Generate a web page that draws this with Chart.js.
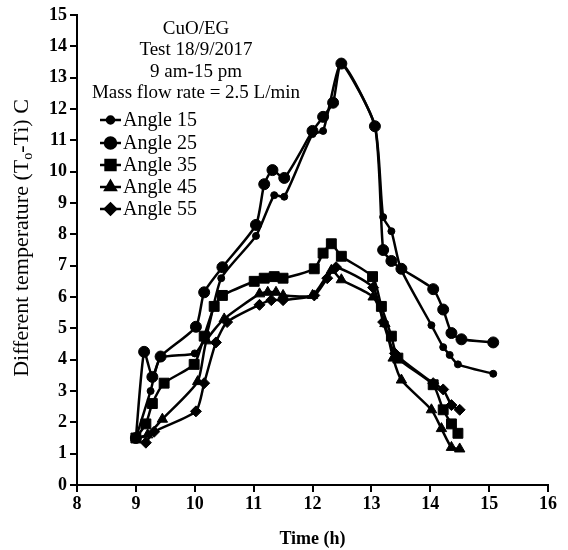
<!DOCTYPE html>
<html>
<head>
<meta charset="utf-8">
<script src="https://cdn.jsdelivr.net/npm/chart.js@4/dist/chart.umd.min.js"></script>
<style>
  html, body { margin: 0; padding: 0; background: #fff; }
  #wrap { position: relative; width: 568px; height: 550px; }
</style>
</head>
<body>
<div id="wrap"><canvas id="tempChart" width="568" height="550"></canvas></div>
<script>
// Outlet minus inlet temperature over the test day, one series per tilt angle
const angle15Time = [9.0, 9.25, 9.42, 10.0, 10.2, 10.45, 11.04, 11.35, 11.52, 12.0, 12.18, 12.49, 13.06, 13.2, 13.34, 13.5, 14.02, 14.22, 14.33, 14.47, 15.07];
const angle15Temp = [1.5, 3.0, 4.05, 4.2, 4.8, 6.6, 7.95, 9.25, 9.2, 11.2, 11.3, 13.45, 11.45, 8.55, 8.1, 6.9, 5.1, 4.4, 4.15, 3.85, 3.55];

const angle25Time = [9.0, 9.14, 9.28, 9.42, 10.02, 10.16, 10.47, 11.04, 11.18, 11.32, 11.52, 12.0, 12.18, 12.35, 12.49, 13.06, 13.2, 13.34, 13.51, 14.05, 14.22, 14.36, 14.53, 15.07];
const angle25Temp = [1.5, 4.25, 3.45, 4.1, 5.05, 6.15, 6.95, 8.3, 9.6, 10.05, 9.8, 11.3, 11.75, 12.2, 13.45, 11.45, 7.5, 7.15, 6.9, 6.25, 5.6, 4.85, 4.65, 4.55];

const angle35Time = [9.0, 9.17, 9.28, 9.48, 9.99, 10.16, 10.33, 10.47, 11.01, 11.18, 11.35, 11.5, 12.03, 12.18, 12.32, 12.49, 13.02, 13.17, 13.34, 13.45, 14.05, 14.22, 14.36, 14.47];
const angle35Temp = [1.5, 1.95, 2.6, 3.25, 3.85, 4.75, 5.7, 6.05, 6.5, 6.6, 6.65, 6.6, 6.9, 7.4, 7.7, 7.3, 6.65, 5.7, 4.75, 4.05, 3.2, 2.4, 1.95, 1.65];

const angle45Time = [9.0, 9.2, 9.45, 10.05, 10.2, 10.5, 11.1, 11.24, 11.38, 11.5, 12.0, 12.32, 12.49, 13.03, 13.23, 13.37, 13.51, 14.02, 14.19, 14.36, 14.5];
const angle45Temp = [1.5, 1.6, 2.1, 3.3, 4.6, 5.3, 6.1, 6.15, 6.15, 6.05, 6.05, 6.85, 6.55, 6.0, 5.15, 4.05, 3.35, 2.4, 1.8, 1.2, 1.15];

const angle55Time = [9.17, 9.31, 10.02, 10.16, 10.36, 10.55, 11.1, 11.3, 11.5, 12.03, 12.25, 12.4, 13.03, 13.2, 13.4, 14.05, 14.22, 14.36, 14.5];
const angle55Temp = [1.35, 1.7, 2.35, 3.25, 4.55, 5.2, 5.75, 5.9, 5.9, 6.05, 6.6, 6.95, 6.3, 5.2, 4.2, 3.25, 3.05, 2.55, 2.4];

const seriesLabels = ['Angle 15', 'Angle 25', 'Angle 35', 'Angle 45', 'Angle 55'];
const noteLines = ['CuO/EG', 'Test 18/9/2017', '9 am-15 pm', 'Mass flow rate = 2.5 L/min'];

const SERIF = '"Liberation Serif", "Times New Roman", serif';

function toPoints(times, temps) {
    return times.map((t, i) => ({ x: t, y: temps[i] }));
}

function makeSet(label, times, temps, style, radius) {
    return {
        label: label,
        data: toPoints(times, temps),
        borderColor: '#000',
        backgroundColor: '#000',
        borderWidth: 2.5,
        pointStyle: style,
        pointRadius: radius,
        pointBorderWidth: 1,
        tension: 0.2,
        fill: false
    };
}

// text block, legend and y title drawn straight on the canvas
const annotations = {
    id: 'annotations',
    afterDraw(chart) {
        const ctx = chart.ctx;
        ctx.save();
        ctx.fillStyle = '#000';
        ctx.textBaseline = 'middle';

        // note block
        ctx.font = '19px ' + SERIF;
        ctx.textAlign = 'center';
        const noteY = [29, 50, 72, 93];
        noteLines.forEach((txt, i) => ctx.fillText(txt, 196, noteY[i]));

        // legend
        ctx.textAlign = 'left';
        ctx.font = '20px ' + SERIF;
        const rowY = [120, 143, 165, 187, 209];
        chart.data.datasets.forEach((ds, i) => {
            const y = rowY[i];
            ctx.strokeStyle = '#000';
            ctx.lineWidth = 2.5;
            ctx.beginPath();
            ctx.moveTo(100, y);
            ctx.lineTo(121, y);
            ctx.stroke();
            if (Chart.helpers && Chart.helpers.drawPoint) {
                Chart.helpers.drawPoint(ctx, {
                    pointStyle: ds.pointStyle,
                    radius: ds.pointRadius,
                    rotation: 0,
                    borderWidth: 1
                }, 110.5, y);
                ctx.fill();
            }
            ctx.fillStyle = '#000';
            ctx.fillText(seriesLabels[i], 123, y + 1);
        });

        // y axis title with subscript o
        ctx.translate(22, 238);
        ctx.rotate(-Math.PI / 2);
        const parts = [
            { t: 'Different temperature (T', f: '22px ' + SERIF, dy: 0 },
            { t: 'o', f: '14px ' + SERIF, dy: 6 },
            { t: '-Ti) C', f: '22px ' + SERIF, dy: 0 }
        ];
        let total = 0;
        parts.forEach(p => { ctx.font = p.f; total += ctx.measureText(p.t).width; });
        let x = -total / 2;
        parts.forEach(p => {
            ctx.font = p.f;
            ctx.fillText(p.t, x, p.dy);
            x += ctx.measureText(p.t).width;
        });
        ctx.restore();
    }
};

const axisStyle = {
    border: { display: true, color: '#000', width: 2 },
    grid: { display: true, drawOnChartArea: false, drawTicks: true, tickLength: 7, color: '#000', lineWidth: 2 },
    ticks: { color: '#000', stepSize: 1, font: { family: SERIF, size: 18, weight: 'bold' } }
};

new Chart(document.getElementById('tempChart'), {
    type: 'line',
    data: {
        datasets: [
            makeSet(seriesLabels[0], angle15Time, angle15Temp, 'circle', 3.5),
            makeSet(seriesLabels[1], angle25Time, angle25Temp, 'circle', 5.5),
            makeSet(seriesLabels[2], angle35Time, angle35Temp, 'rect', 7),
            makeSet(seriesLabels[3], angle45Time, angle45Temp, 'triangle', 6),
            makeSet(seriesLabels[4], angle55Time, angle55Temp, 'rectRot', 5.5)
        ]
    },
    options: {
        responsive: false,
        animation: false,
        layout: { padding: { top: 15, right: 20, left: 0, bottom: 0 } },
        plugins: {
            legend: { display: false },
            tooltip: { enabled: false }
        },
        scales: {
            x: {
                type: 'linear',
                min: 8,
                max: 16,
                border: axisStyle.border,
                grid: axisStyle.grid,
                ticks: Object.assign({}, axisStyle.ticks, { padding: 2, maxRotation: 0 }),
                title: {
                    display: true,
                    text: 'Time (h)',
                    color: '#000',
                    font: { family: SERIF, size: 18, weight: 'bold' },
                    padding: { top: 4, bottom: 0 }
                },
                afterFit(scale) { scale.height = 65; }
            },
            y: {
                min: 0,
                max: 15,
                border: axisStyle.border,
                grid: axisStyle.grid,
                ticks: Object.assign({}, axisStyle.ticks, { padding: 3 }),
                afterFit(scale) { scale.width = 77; }
            }
        }
    },
    plugins: [annotations]
});
</script>
</body>
</html>
